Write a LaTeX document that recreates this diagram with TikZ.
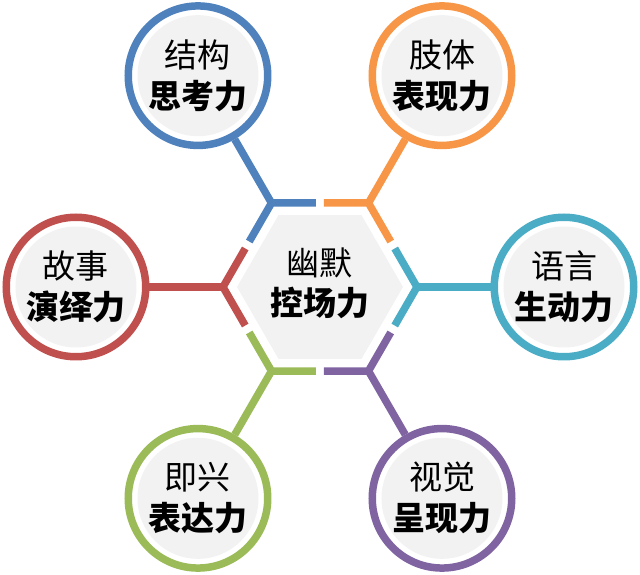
\documentclass[tikz,border=0pt]{standalone}
\usepackage{fontspec}
\newfontfamily\cjk{Noto Sans CJK SC}
\usetikzlibrary{calc,shapes.geometric}

\definecolor{bleu}{HTML}{4F81BD}
\definecolor{orange}{HTML}{F79646}
\definecolor{turquoise}{HTML}{4BACC6}
\definecolor{violet}{HTML}{8064A2}
\definecolor{vert}{HTML}{9BBB59}
\definecolor{rouge}{HTML}{C0504D}
\definecolor{grisfond}{HTML}{F2F2F2}

\tikzset{
  trait/.style={draw=#1, line width=7.5pt},
  hexa/.style={regular polygon, regular polygon sides=6, minimum size=166pt,
    inner sep=0pt, fill=grisfond},
  titre/.style={align=center, font=\cjk\fontsize{33}{40}\selectfont},
  bulle/.style={circle, draw=#1, line width=7.5pt, minimum size=139.5pt,
    inner sep=0pt, fill=white, align=center,
    font=\cjk\fontsize{33}{41}\selectfont,
    path picture={\fill[grisfond] (path picture bounding box.center) circle (60.5pt);}},
}

\begin{document}
\begin{tikzpicture}[x=1pt, y=1pt]
  \useasboundingbox (-320,-288) rectangle (320,287);

  % Hexagone central
  \node[hexa] (centre) at (0,0) {};
  \node[titre] (titre) at (0,4) {幽默\\\textbf{控场力}};

  % Sommets de l'hexagone extérieur
  \coordinate (s0) at (0:97);
  \coordinate (s60) at (60:97);
  \coordinate (s120) at (120:97);
  \coordinate (s180) at (180:97);
  \coordinate (s240) at (240:97);
  \coordinate (s300) at (300:97);

  % Segments colorés autour de l'hexagone
  \draw[trait=bleu] ($(s120)!44.5pt!(s60)$) -- (s120) -- ($(s120)!44.5pt!(s180)$);
  \draw[trait=orange] ($(s60)!44.5pt!(s120)$) -- (s60) -- ($(s60)!44.5pt!(s0)$);
  \draw[trait=turquoise] ($(s0)!44.5pt!(s60)$) -- (s0) -- ($(s0)!44.5pt!(s300)$);
  \draw[trait=violet] ($(s300)!44.5pt!(s0)$) -- (s300) -- ($(s300)!44.5pt!(s240)$);
  \draw[trait=vert] ($(s240)!44.5pt!(s300)$) -- (s240) -- ($(s240)!44.5pt!(s180)$);
  \draw[trait=rouge] ($(s180)!44.5pt!(s240)$) -- (s180) -- ($(s180)!44.5pt!(s120)$);

  % Bulles
  \node[bulle=bleu] (structure) at (120:244) {结构\\\textbf{思考力}};
  \node[bulle=orange] (corps) at (60:244) {肢体\\\textbf{表现力}};
  \node[bulle=turquoise] (langage) at (0:244) {语言\\\textbf{生动力}};
  \node[bulle=violet] (visuel) at (300:244) {视觉\\\textbf{呈现力}};
  \node[bulle=vert] (impro) at (240:244) {即兴\\\textbf{表达力}};
  \node[bulle=rouge] (recit) at (180:244) {故事\\\textbf{演绎力}};

  % Rayons
  \draw[trait=bleu] (s120) -- (structure);
  \draw[trait=orange] (s60) -- (corps);
  \draw[trait=turquoise] (s0) -- (langage);
  \draw[trait=violet] (s300) -- (visuel);
  \draw[trait=vert] (s240) -- (impro);
  \draw[trait=rouge] (s180) -- (recit);
\end{tikzpicture}
\end{document}
